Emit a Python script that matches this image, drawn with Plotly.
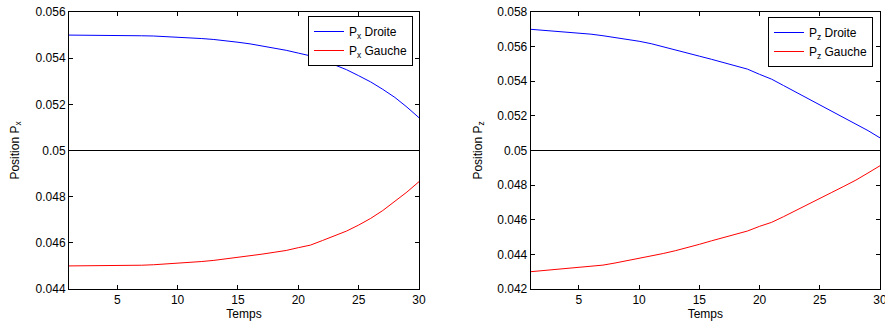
import plotly.graph_objects as go
from plotly.subplots import make_subplots

temps = list(range(1, 31))

px_droite = [0.05500, 0.05500, 0.05500, 0.05499, 0.05499, 0.05498, 0.05497, 0.05496, 0.05494, 0.05492,
             0.05489, 0.05485, 0.05481, 0.05476, 0.05469, 0.05462, 0.05453, 0.05444, 0.05434, 0.05422,
             0.05410, 0.05392, 0.05372, 0.05350, 0.05324, 0.05297, 0.05265, 0.05230, 0.05188, 0.05142]
px_gauche = [0.04500, 0.04500, 0.04500, 0.04501, 0.04501, 0.04502, 0.04503, 0.04505, 0.04508, 0.04511,
             0.04514, 0.04519, 0.04524, 0.04530, 0.04536, 0.04543, 0.04551, 0.04559, 0.04567, 0.04579,
             0.04590, 0.04610, 0.04630, 0.04651, 0.04677, 0.04706, 0.04740, 0.04779, 0.04820, 0.04865]
pz_droite = [0.05700, 0.05694, 0.05689, 0.05685, 0.05680, 0.05672, 0.05663, 0.05653, 0.05642, 0.05631,
             0.05617, 0.05600, 0.05582, 0.05563, 0.05545, 0.05527, 0.05508, 0.05490, 0.05470, 0.05440,
             0.05412, 0.05375, 0.05338, 0.05300, 0.05262, 0.05227, 0.05192, 0.05156, 0.05115, 0.05073]
pz_gauche = [0.04300, 0.04306, 0.04313, 0.04319, 0.04325, 0.04331, 0.04338, 0.04350, 0.04363, 0.04377,
             0.04390, 0.04405, 0.04421, 0.04438, 0.04458, 0.04478, 0.04498, 0.04516, 0.04535, 0.04562,
             0.04585, 0.04618, 0.04652, 0.04688, 0.04723, 0.04758, 0.04793, 0.04829, 0.04870, 0.04912]

x_ticks = [5, 10, 15, 20, 25, 30]
left_y_ticks = [0.044, 0.046, 0.048, 0.05, 0.052, 0.054, 0.056]
right_y_ticks = [0.042, 0.044, 0.046, 0.048, 0.05, 0.052, 0.054, 0.056, 0.058]
ref_level = 0.05

fig = make_subplots(rows=1, cols=2)

fig.add_trace(go.Scatter(x=temps, y=px_droite, mode="lines", name="P<sub>x</sub> Droite",
                         line=dict(color="#0000ff", width=1), legend="legend"), row=1, col=1)
fig.add_trace(go.Scatter(x=temps, y=px_gauche, mode="lines", name="P<sub>x</sub> Gauche",
                         line=dict(color="#ff0000", width=1), legend="legend"), row=1, col=1)
fig.add_trace(go.Scatter(x=temps, y=pz_droite, mode="lines", name="P<sub>z</sub> Droite",
                         line=dict(color="#0000ff", width=1), legend="legend2"), row=1, col=2)
fig.add_trace(go.Scatter(x=temps, y=pz_gauche, mode="lines", name="P<sub>z</sub> Gauche",
                         line=dict(color="#ff0000", width=1), legend="legend2"), row=1, col=2)

for c in (1, 2):
    fig.add_hline(y=ref_level, line=dict(color="black", width=1), row=1, col=c)

font = dict(family="Liberation Sans, Arial, Helvetica, sans-serif", size=12, color="black")
axis_common = dict(showgrid=False, zeroline=False, showline=True, linecolor="black", linewidth=1,
                   mirror="ticks", ticks="inside", ticklen=4, tickcolor="black",
                   tickfont=font, automargin=False, ticklabeloverflow="allow")

W, H = 885, 324

fig.update_xaxes(**axis_common, range=[1, 30], tickvals=x_ticks, ticktext=[str(v) for v in x_ticks],
                 title=dict(text="Temps", font=font, standoff=0))
fig.update_xaxes(domain=[69 / W, 419 / W], row=1, col=1)
fig.update_xaxes(domain=[530.7 / W, 880 / W], row=1, col=2)
fig.update_yaxes(**axis_common, domain=[1 - 289 / H, 1 - 12 / H])
fig.update_yaxes(range=[0.044, 0.056], tickvals=left_y_ticks,
                 ticktext=[f"{v:g}" for v in left_y_ticks],
                 title=dict(text="Position P<sub>x</sub>", font=font, standoff=13), row=1, col=1)
fig.update_yaxes(range=[0.042, 0.058], tickvals=right_y_ticks,
                 ticktext=[f"{v:g}" for v in right_y_ticks],
                 title=dict(text="Position P<sub>z</sub>", font=font, standoff=12), row=1, col=2)

legend_style = dict(bgcolor="white", bordercolor="black", borderwidth=1, font=font,
                    xanchor="right", yanchor="top", tracegroupgap=0,
                    itemwidth=30)
fig.update_layout(
    width=W, height=H,
    margin=dict(l=0, r=0, t=0, b=0, autoexpand=False),
    paper_bgcolor="white", plot_bgcolor="white",
    font=font,
    legend=dict(**legend_style, x=413 / W, y=1 - 16 / H),
    legend2=dict(**legend_style, x=873 / W, y=1 - 17 / H),
)

fig.write_html("out.html",
               config={"displayModeBar": False},
               post_script="document.body.style.margin='0';document.body.style.overflow='hidden';")
